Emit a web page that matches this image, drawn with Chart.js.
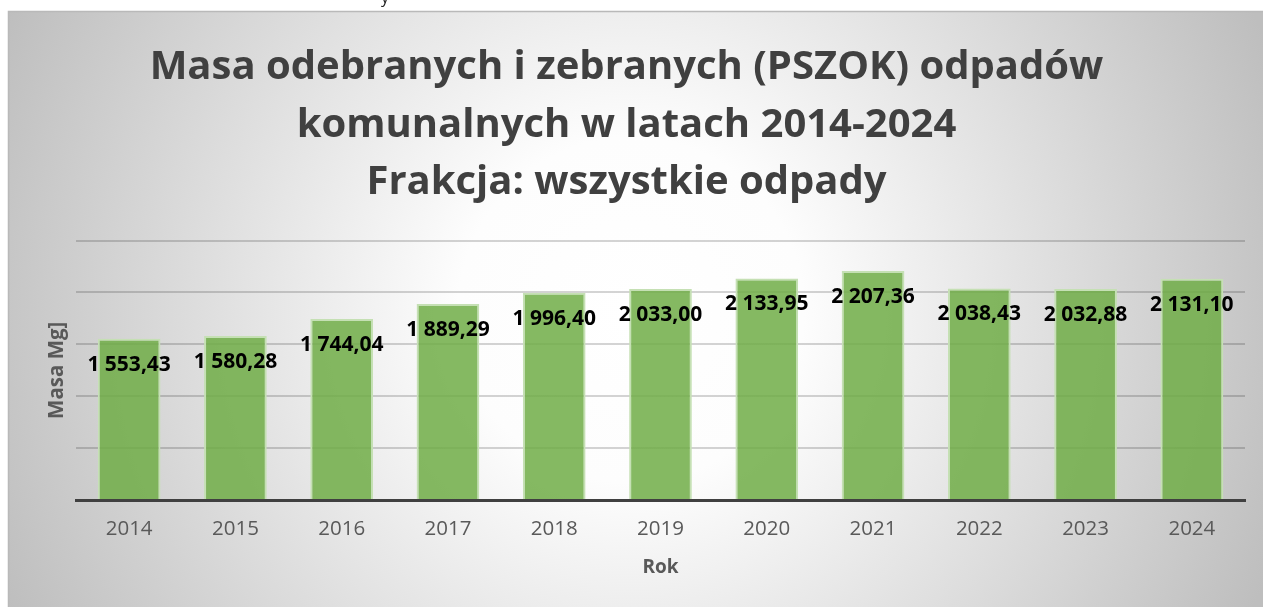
<!DOCTYPE html>
<html>
<head>
<meta charset="utf-8">
<script src="https://cdn.jsdelivr.net/npm/chart.js@4"></script>
<style>
  body { margin: 0; background: #fff; }
  canvas { display: block; }
</style>
</head>
<body>
<canvas id="chart" width="1263" height="607"></canvas>
<script>
const years = ['2014', '2015', '2016', '2017', '2018', '2019', '2020', '2021', '2022', '2023', '2024'];
const masa = [1553.43, 1580.28, 1744.04, 1889.29, 1996.40, 2033.00, 2133.95, 2207.36, 2038.43, 2032.88, 2131.10];
const titleLines = ['Masa odebranych i zebranych (PSZOK) odpadów', 'komunalnych w latach 2014-2024', 'Frakcja: wszystkie odpady'];

// polish number format: "1 553,43"
function fmt(v) {
  const parts = v.toFixed(2).split('.');
  const int = parts[0].replace(/\B(?=(\d{3})+(?!\d))/g, ' ');
  return int + ',' + parts[1];
}

const background = {
  id: 'background',
  beforeDraw(chart) {
    const ctx = chart.ctx;
    const w = chart.width, h = chart.height;
    ctx.save();
    ctx.fillStyle = '#fff';
    ctx.fillRect(0, 0, w, h);
    const g = ctx.createRadialGradient(631, 310, 0, 631, 310, 690);
    g.addColorStop(0, '#ffffff');
    g.addColorStop(0.25, '#fdfdfd');
    g.addColorStop(1, '#bebebe');
    ctx.fillStyle = g;
    ctx.fillRect(8, 11, w - 8, h - 11);
    ctx.strokeStyle = '#b9b9b9';
    ctx.lineWidth = 1.5;
    ctx.beginPath();
    ctx.moveTo(8.5, h);
    ctx.lineTo(8.5, 11.5);
    ctx.lineTo(w, 11.5);
    ctx.stroke();
    // stray descender from text above the chart
    ctx.fillStyle = '#222';
    ctx.font = '16px "Open Sans"';
    ctx.textBaseline = 'alphabetic';
    ctx.fillText('y', 381, 3);
    ctx.restore();
  }
};

const valueLabels = {
  id: 'valueLabels',
  afterDatasetsDraw(chart) {
    const ctx = chart.ctx;
    const meta = chart.getDatasetMeta(0);
    ctx.save();
    ctx.font = 'bold 21px "Open Sans"';
    ctx.fillStyle = '#000';
    ctx.textAlign = 'center';
    ctx.textBaseline = 'middle';
    meta.data.forEach((bar, i) => {
      ctx.fillText(fmt(masa[i]), bar.x, bar.y + 26);
    });
    ctx.restore();
  }
};

new Chart(document.getElementById('chart'), {
  type: 'bar',
  data: {
    labels: years,
    datasets: [{
      data: masa,
      backgroundColor: 'rgba(112,173,71,0.85)',
      borderColor: '#c5e0b4',
      borderWidth: 2,
      barPercentage: 0.59,
      categoryPercentage: 1,
    }]
  },
  options: {
    responsive: false,
    animation: false,
    layout: { padding: { left: 8, right: 18, top: 11, bottom: 0 } },
    plugins: {
      legend: { display: false },
      tooltip: { enabled: false },
      title: {
        display: true,
        text: titleLines,
        color: '#404040',
        font: { family: 'Open Sans', size: 40, weight: 'bold', lineHeight: 1.4375 },
        padding: { top: 28, bottom: 29 },
      },
    },
    scales: {
      x: {
        grid: { display: false, drawTicks: false },
        border: { color: '#404040', width: 3 },
        ticks: { color: '#595959', font: { family: 'Open Sans', size: 20.5 }, padding: 17 },
        title: {
          display: true,
          text: 'Rok',
          color: '#595959',
          font: { family: 'Open Sans', size: 19, weight: 'bold' },
          padding: { top: 0, bottom: 28 },
        },
        afterFit(s) { s.height = 107; },
      },
      y: {
        min: 0,
        max: 2500,
        ticks: { display: false, stepSize: 500 },
        border: { display: false },
        grid: {
          drawTicks: false,
          lineWidth: 2,
          color: (c) => c.index === 0 ? 'rgba(0,0,0,0)' : 'rgba(0,0,0,0.17)',
        },
        title: {
          display: true,
          text: 'Masa Mg]',
          color: '#595959',
          font: { family: 'Open Sans', size: 20.5, weight: 'bold' },
          padding: { top: 37 },
        },
        afterFit(s) { s.width = 68; },
      },
    },
  },
  plugins: [background, valueLabels],
});
</script>
</body>
</html>
